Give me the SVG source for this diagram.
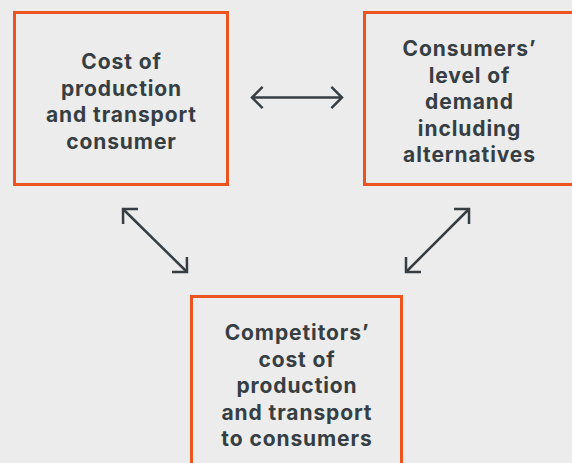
<svg xmlns="http://www.w3.org/2000/svg" width="572" height="463" viewBox="0 0 572 463">
  <style>
    .box { fill: none; stroke: #E9541F; stroke-width: 3; }
    .lbl { font-family: Inter, "Open Sans", "Liberation Sans", sans-serif; font-weight: 700; font-size: 21px; letter-spacing: 0.9px; fill: #363E43; text-anchor: middle; }
    .conn { fill: none; stroke: #363E43; stroke-width: 2.5; marker-start: url(#chev); marker-end: url(#chev); }
  </style>
  <defs>
    <marker id="chev" markerUnits="userSpaceOnUse" viewBox="-16 -16 32 32" markerWidth="32" markerHeight="32" refX="0" refY="0" orient="auto-start-reverse">
      <path d="M-10.6,-10.6 L0,0 L-10.6,10.6" fill="none" stroke="#363E43" stroke-width="2.5"/>
    </marker>
  </defs>
  <rect width="572" height="463" fill="#EBECEB"/>
  <g id="node-cost">
    <rect class="box" x="14.5" y="12.5" width="213" height="172"/>
    <text class="lbl" x="121.5" y="69">Cost of</text>
    <text class="lbl" x="121.5" y="95.5">production</text>
    <text class="lbl" x="121.5" y="122">and transport</text>
    <text class="lbl" x="121.5" y="148.5">consumer</text>
  </g>
  <g id="node-demand">
    <rect class="box" x="364.5" y="12.5" width="210" height="172"/>
    <text class="lbl" x="469.5" y="56">Consumers’</text>
    <text class="lbl" x="469.5" y="82.5">level of</text>
    <text class="lbl" x="469.5" y="109">demand</text>
    <text class="lbl" x="469.5" y="135.5">including</text>
    <text class="lbl" x="469.5" y="162">alternatives</text>
  </g>
  <g id="node-competitors">
    <rect class="box" x="191.5" y="296.5" width="210" height="180"/>
    <text class="lbl" x="297" y="340">Competitors’</text>
    <text class="lbl" x="297" y="366.5">cost of</text>
    <text class="lbl" x="297" y="393">production</text>
    <text class="lbl" x="297" y="419.5">and transport</text>
    <text class="lbl" x="297" y="446">to consumers</text>
  </g>
  <g id="connectors">
    <line class="conn" x1="252" y1="97.5" x2="342" y2="97.5"/>
    <line class="conn" x1="123" y1="209" x2="187" y2="272"/>
    <line class="conn" x1="469" y1="209" x2="406" y2="272"/>
  </g>
</svg>
